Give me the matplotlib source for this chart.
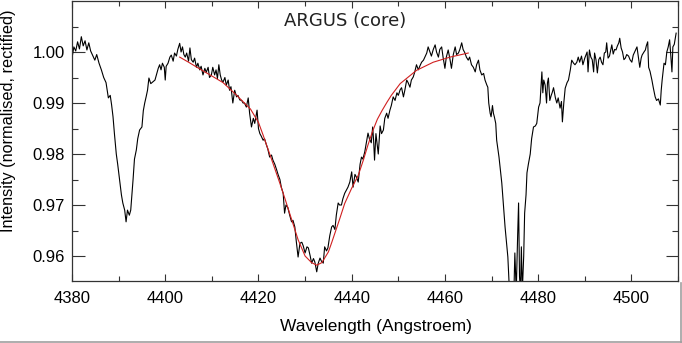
import matplotlib
matplotlib.use("Agg")
import matplotlib.pyplot as plt
from matplotlib.lines import Line2D
from matplotlib.ticker import MultipleLocator

wave = [
    4380.0, 4380.4, 4380.8, 4381.2, 4381.6, 4382.0, 4382.4, 4382.8, 4383.2, 4383.6,
    4384.0, 4384.5, 4384.9, 4385.3, 4385.8, 4386.3, 4386.8, 4387.3, 4387.8, 4388.2,
    4388.5, 4388.8, 4389.1, 4389.5, 4389.8, 4390.2, 4390.6, 4390.9, 4391.3, 4391.6,
    4391.9, 4392.3, 4392.6, 4393.1, 4393.4, 4393.8, 4394.1, 4394.5, 4395.0, 4395.3,
    4395.6, 4395.9, 4396.2, 4396.5, 4396.9, 4397.3, 4397.8, 4398.2, 4398.5, 4398.8,
    4399.1, 4399.4, 4399.8, 4400.0, 4400.2, 4400.6, 4401.0, 4401.3,
    4401.7, 4402.0, 4402.4, 4402.7, 4403.1, 4403.4, 4403.7, 4404.0, 4404.3, 4404.6,
    4405.0, 4405.3, 4405.6, 4406.0, 4406.3, 4406.7, 4407.0, 4407.4, 4407.7, 4408.1,
    4408.5, 4408.8, 4409.2, 4409.5, 4409.9, 4410.2, 4410.6, 4410.9, 4411.2, 4411.5,
    4411.8, 4412.1, 4412.4, 4412.8, 4413.1, 4413.5, 4413.8, 4414.1, 4414.5, 4414.9,
    4415.3, 4415.6, 4416.0, 4416.4, 4416.7, 4417.0, 4417.4, 4417.8, 4418.1, 4418.5,
    4418.9, 4419.2, 4419.7, 4420.0, 4420.3, 4420.6, 4421.0, 4421.3, 4421.7, 4422.0,
    4422.4, 4422.8, 4423.1,
    4423.5, 4423.9, 4424.2, 4424.6, 4424.9, 4425.3, 4425.6, 4425.9, 4426.3, 4426.7,
    4427.1, 4427.4, 4427.8, 4428.1, 4428.5, 4428.9, 4429.3, 4429.6, 4430.0, 4430.4,
    4430.7, 4431.1, 4431.4, 4431.8, 4432.1, 4432.5, 4432.8, 4433.2, 4433.5, 4433.9,
    4434.2, 4434.6, 4434.9, 4435.3, 4435.7, 4436.0, 4436.4, 4436.7, 4437.1, 4437.4,
    4437.8, 4438.1, 4438.5, 4438.8, 4439.2, 4439.6, 4440.0, 4440.3, 4440.7, 4441.0,
    4441.4, 4441.8, 4442.1, 4442.4, 4442.8, 4443.1, 4443.5, 4443.8, 4444.2, 4444.5,
    4444.7, 4444.9, 4445.2, 4445.7, 4446.1, 4446.4, 4446.8, 4447.1, 4447.5, 4447.8,
    4448.2, 4448.5, 4448.9, 4449.3, 4449.7, 4450.0, 4450.4, 4450.7, 4451.1, 4451.4,
    4451.8, 4452.1, 4452.5, 4452.8, 4453.2, 4453.5, 4453.9, 4454.3, 4454.6, 4455.0,
    4455.4, 4455.7, 4456.1, 4456.4, 4456.8, 4457.1, 4457.5, 4457.9, 4458.2, 4458.6,
    4458.9, 4459.3, 4459.6, 4460.0, 4460.3, 4460.7, 4461.1, 4461.4, 4461.8, 4462.2,
    4462.5, 4462.9, 4463.2, 4463.6, 4463.9, 4464.3, 4464.6, 4465.0, 4465.3, 4465.7,
    4466.1, 4466.5, 4466.8, 4467.2, 4467.5, 4467.9, 4468.3, 4468.6, 4469.0, 4469.2,
    4469.4, 4469.7, 4469.9, 4470.2, 4470.4, 4470.6, 4470.9, 4471.1, 4471.6, 4472.2,
    4472.9, 4473.5, 4473.8, 4474.1, 4474.4, 4474.8, 4475.0, 4475.3, 4475.6, 4475.8,
    4476.0, 4476.2, 4476.4, 4476.6, 4476.9, 4477.1, 4477.4, 4477.6, 4477.9, 4478.3,
    4478.6, 4479.0, 4479.4, 4479.7, 4480.1, 4480.4, 4480.8, 4481.0, 4481.2, 4481.5,
    4481.8, 4482.0, 4482.2, 4482.5, 4482.8, 4483.0, 4483.3, 4483.7, 4484.0, 4484.3,
    4484.7, 4485.0, 4485.2, 4485.5, 4485.8, 4486.2, 4486.5, 4486.9, 4487.2, 4487.6,
    4487.9, 4488.3, 4488.6, 4488.9, 4489.3, 4489.6, 4490.0, 4490.3, 4490.5, 4490.7,
    4491.0, 4491.3, 4491.6, 4491.9, 4492.1, 4492.4, 4492.7, 4493.0, 4493.3, 4493.6,
    4493.9, 4494.2, 4494.5, 4494.7, 4495.0, 4495.3, 4495.6, 4495.8, 4496.1, 4496.4,
    4496.7, 4497.0, 4497.3, 4497.5, 4497.8, 4498.1, 4498.4, 4498.7, 4499.0, 4499.4,
    4499.7, 4500.1, 4500.4, 4500.8, 4501.2, 4501.5, 4501.8, 4502.1, 4502.3, 4502.7,
    4503.0, 4503.2, 4503.5, 4503.7, 4504.0, 4504.4, 4504.7, 4505.1, 4505.4, 4505.8,
    4506.2, 4506.4, 4506.6, 4507.0, 4507.3, 4507.6, 4507.9, 4508.2, 4508.4, 4508.7,
    4508.9, 4509.2, 4509.6,
]
flux = [
    0.9988, 1.0010, 1.0002, 1.0020, 1.0006, 1.0030, 1.0012, 1.0022, 1.0004, 1.0018,
    1.0002, 0.9992, 0.9984, 0.9995, 0.9978, 0.9965, 0.9950, 0.9940, 0.9910, 0.9915,
    0.9896, 0.9873, 0.9840, 0.9800, 0.9780, 0.9750, 0.9720, 0.9704, 0.9690, 0.9667,
    0.9690, 0.9680, 0.9690, 0.9750, 0.9790, 0.9808, 0.9830, 0.9847, 0.9853, 0.9885,
    0.9900, 0.9912, 0.9925, 0.9949, 0.9938, 0.9941, 0.9945, 0.9958, 0.9968, 0.9975,
    0.9965, 0.9978, 0.9970, 0.9945, 0.9972, 0.9978, 0.9990, 0.9994,
    0.9982, 0.9998, 0.9992, 1.0005, 1.0017, 1.0000, 1.0010, 0.9995, 0.9990, 0.9998,
    0.9982, 1.0008, 0.9985, 0.9980, 0.9988, 0.9970, 0.9978, 0.9965, 0.9972, 0.9955,
    0.9968, 0.9960, 0.9970, 0.9950, 0.9955, 0.9970, 0.9955, 0.9965, 0.9948, 0.9975,
    0.9955, 0.9945, 0.9941, 0.9950, 0.9935, 0.9945, 0.9925, 0.9932, 0.9900, 0.9925,
    0.9912, 0.9915, 0.9906, 0.9905, 0.9900, 0.9900, 0.9892, 0.9910, 0.9880, 0.9853,
    0.9870, 0.9860, 0.9886, 0.9850, 0.9840, 0.9835, 0.9827, 0.9830, 0.9818, 0.9810,
    0.9794, 0.9798, 0.9788,
    0.9780, 0.9769, 0.9760, 0.9750, 0.9735, 0.9723, 0.9684, 0.9700, 0.9695, 0.9680,
    0.9667, 0.9670, 0.9657, 0.9630, 0.9598, 0.9625, 0.9627, 0.9620, 0.9606, 0.9618,
    0.9616, 0.9600, 0.9586, 0.9595, 0.9588, 0.9569, 0.9585, 0.9596, 0.9590, 0.9586,
    0.9618, 0.9610, 0.9616, 0.9640, 0.9657, 0.9660, 0.9652, 0.9680, 0.9704, 0.9700,
    0.9700, 0.9712, 0.9723, 0.9728, 0.9735, 0.9745, 0.9765, 0.9735, 0.9760, 0.9755,
    0.9745, 0.9780, 0.9794, 0.9790, 0.9804, 0.9820, 0.9841, 0.9830, 0.9822, 0.9853,
    0.9827, 0.9788, 0.9840, 0.9800, 0.9855, 0.9840, 0.9847, 0.9870, 0.9880, 0.9870,
    0.9886, 0.9895, 0.9912, 0.9905, 0.9920, 0.9915, 0.9926, 0.9930, 0.9912, 0.9925,
    0.9945, 0.9940, 0.9931, 0.9945, 0.9951, 0.9960, 0.9975, 0.9965, 0.9972, 0.9980,
    0.9984, 0.9990, 0.9998, 1.0010, 1.0000, 0.9992, 1.0005, 1.0014, 1.0000, 0.9990,
    1.0005, 1.0010, 0.9990, 0.9968, 0.9990, 1.0004, 0.9985, 0.9968, 0.9995, 1.0010,
    0.9995, 0.9998, 1.0005, 1.0018, 1.0005, 0.9998, 0.9990, 0.9984, 0.9990, 0.9975,
    0.9970, 0.9961, 0.9975, 0.9984, 0.9965, 0.9955, 0.9958, 0.9945, 0.9935, 0.9931,
    0.9900, 0.9880, 0.9873, 0.9895, 0.9880, 0.9873, 0.9860, 0.9827, 0.9794, 0.9743,
    0.9657, 0.9598, 0.9540, 0.9530, 0.9540, 0.9530, 0.9606, 0.9530, 0.9640, 0.9704,
    0.9560, 0.9530, 0.9618, 0.9530, 0.9600, 0.9684, 0.9720, 0.9763, 0.9780, 0.9800,
    0.9830, 0.9853, 0.9855, 0.9860, 0.9892, 0.9900, 0.9961, 0.9920, 0.9945, 0.9935,
    0.9900, 0.9940, 0.9949, 0.9905, 0.9915, 0.9920, 0.9930, 0.9910, 0.9900, 0.9910,
    0.9890, 0.9903, 0.9863, 0.9900, 0.9929, 0.9940, 0.9945, 0.9965, 0.9984, 0.9978,
    0.9975, 0.9980, 0.9990, 0.9980, 0.9992, 0.9975, 0.9988, 0.9995, 1.0000, 0.9961,
    1.0004, 0.9990, 0.9985, 0.9961, 0.9998, 0.9985, 0.9959, 0.9985, 0.9990, 0.9980,
    0.9975, 0.9998, 1.0000, 1.0018, 0.9988, 0.9992, 1.0005, 1.0014, 0.9996, 1.0005,
    1.0004, 1.0012, 1.0018, 1.0027, 1.0008, 1.0000, 0.9985, 0.9988, 0.9995, 0.9992,
    0.9985, 0.9980, 0.9994, 1.0002, 1.0010, 0.9990, 0.9970, 0.9988, 0.9994, 1.0000,
    1.0004, 1.0012, 1.0020, 0.9970, 0.9962, 0.9945, 0.9930, 0.9912, 0.9905, 0.9908,
    0.9896, 0.9925, 0.9945, 0.9978, 0.9975, 1.0000, 1.0010, 1.0024, 1.0000, 0.9961,
    1.0010, 1.0015, 1.0037,
]

# fitted profile (red)
fit_wave = [4403.1, 4405.0, 4408.1, 4410.0, 4412.4, 4415.0, 4418.3, 4420.0, 4421.0, 4423.1,
            4424.5, 4425.7, 4428.5, 4430.0, 4431.4, 4432.5, 4433.6, 4435.0, 4435.7, 4437.4,
            4438.5, 4440.0, 4441.4, 4442.5, 4443.5, 4444.5, 4445.5, 4446.5, 4447.6, 4448.5,
            4450.4, 4453.9, 4457.5, 4461.1, 4465.0]
fit_flux = [0.9990, 0.9980, 0.9963, 0.9953, 0.9940, 0.9918, 0.9888, 0.9862, 0.9837, 0.9782,
            0.9745, 0.9712, 0.9632, 0.9600, 0.9587, 0.9582, 0.9587, 0.9608, 0.9626, 0.9672,
            0.9703, 0.9733, 0.9758, 0.9788, 0.9818, 0.9845, 0.9868, 0.9885, 0.9902, 0.9915,
            0.9938, 0.9964, 0.9980, 0.9990, 0.9998]

plt.rcParams['font.family'] = ['Liberation Sans', 'DejaVu Sans']

fig = plt.figure(figsize=(6.82, 3.43), dpi=100)
ax = fig.add_axes([72 / 682, 62 / 343, 606 / 682, 280 / 343])

ax.plot(wave, flux, color='black', lw=0.8)
ax.plot(fit_wave, fit_flux, color='#d02020', lw=0.8)

ax.set_xlim(4380, 4510)
ax.set_ylim(0.9551, 1.0100)

ax.xaxis.set_major_locator(MultipleLocator(20))
ax.xaxis.set_minor_locator(MultipleLocator(10))
ax.set_yticks([0.96, 0.97, 0.98, 0.99, 1.00])
ax.set_yticks([0.965, 0.975, 0.985, 0.995, 1.005], minor=True)
ax.set_yticklabels(['0.96', '0.97', '0.98', '0.99', '1.00'])

ax.tick_params(axis='both', which='both', direction='in', top=True, right=True,
               labelsize=12, width=0.8, color='#333333')
ax.tick_params(axis='x', which='major', length=5, pad=7)
ax.tick_params(axis='x', which='minor', length=3.5)
ax.tick_params(axis='y', which='major', length=9, pad=5)
ax.tick_params(axis='y', which='minor', length=4.3)
for s in ax.spines.values():
    s.set_linewidth(0.9)
    s.set_color('#333333')

ax.text(0.451, 0.93, "ARGUS (core)", transform=ax.transAxes, ha='center', va='center',
        fontsize=13, family='DejaVu Sans', color='#222222')

fig.text(376 / 682, 1 - 327 / 343, "Wavelength (Angstroem)", ha='center', va='center',
         fontsize=12.5)
fig.text(9 / 682, 1 - 121 / 343, "Intensity (normalised, rectified)", ha='center',
         va='center', rotation=90, fontsize=11.7)

# thin grey frame edge seen at the bottom/right of the reference
fig.add_artist(Line2D([0, 1], [0.6 / 343, 0.6 / 343], transform=fig.transFigure,
                      color='#a0a0a0', lw=1.2))
fig.add_artist(Line2D([680.5 / 682, 680.5 / 682], [0, 60 / 343], transform=fig.transFigure,
                      color='#a0a0a0', lw=1.2))

fig.savefig('out.png', dpi=100)
